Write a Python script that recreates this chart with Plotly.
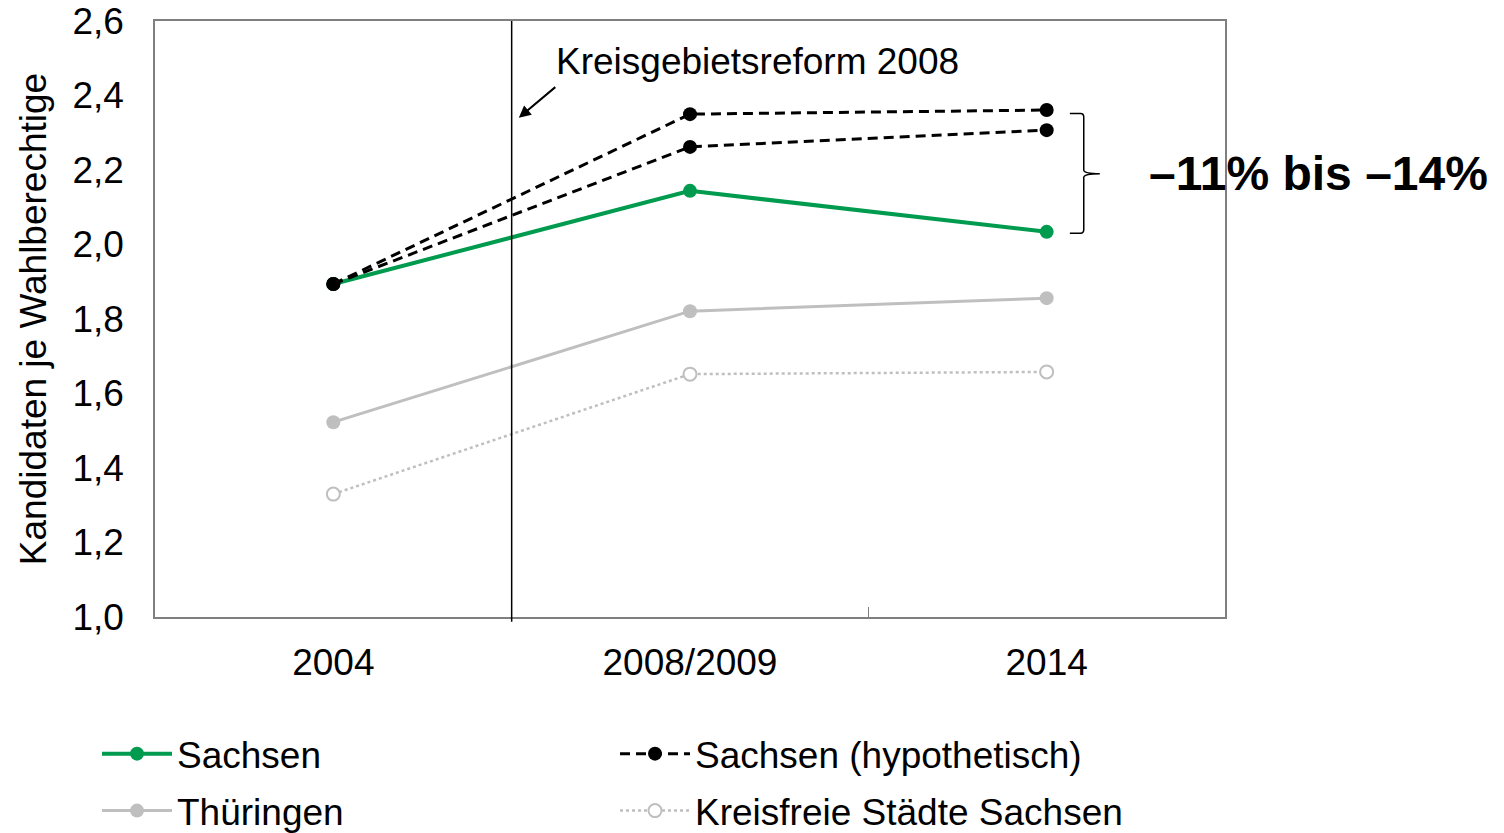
import plotly.graph_objects as go

categories = ["2004", "2008/2009", "2014"]
sachsen = [1.894, 2.144, 2.034]
sachsen_hyp_high = [1.894, 2.350, 2.361]
sachsen_hyp_low = [1.894, 2.262, 2.307]
thueringen = [1.523, 1.821, 1.856]
kreisfreie = [1.330, 1.652, 1.658]
y_ticks = [1.0, 1.2, 1.4, 1.6, 1.8, 2.0, 2.2, 2.4, 2.6]
y_tick_labels = ["1,0", "1,2", "1,4", "1,6", "1,8", "2,0", "2,2", "2,4", "2,6"]

FONT = "Liberation Sans, Arial, sans-serif"
GREEN = "#009B4E"
GRAY = "#BFBFBF"
FS = 37

fig = go.Figure()
fig.add_trace(go.Scatter(
    x=categories, y=sachsen, name="Sachsen", mode="lines+markers", legend="legend",
    line=dict(color=GREEN, width=4), marker=dict(size=14, color=GREEN)))
fig.add_trace(go.Scatter(
    x=categories, y=sachsen_hyp_high, name="Sachsen (hypothetisch)", mode="lines+markers",
    legendgroup="hyp", legend="legend",
    line=dict(color="black", width=3, dash="10px,6px"), marker=dict(size=14, color="black")))
fig.add_trace(go.Scatter(
    x=categories, y=thueringen, name="Thüringen", mode="lines+markers", legend="legend2",
    line=dict(color=GRAY, width=3), marker=dict(size=14, color=GRAY)))
fig.add_trace(go.Scatter(
    x=categories, y=kreisfreie, name="Kreisfreie Städte Sachsen", mode="lines+markers",
    legend="legend2",
    line=dict(color=GRAY, width=2.5, dash="dot"),
    marker=dict(size=13, color="white", line=dict(color=GRAY, width=2))))
fig.add_trace(go.Scatter(
    x=categories, y=sachsen_hyp_low, name="Sachsen (hypothetisch)", mode="lines+markers",
    legendgroup="hyp", showlegend=False, legend="legend",
    line=dict(color="black", width=3, dash="10px,6px"), marker=dict(size=14, color="black")))

legend_common = dict(orientation="h", x=-0.0542, xanchor="left", yanchor="top",
                     entrywidth=433, entrywidthmode="pixels", itemwidth=70,
                     font=dict(size=FS, family=FONT), tracegroupgap=0,
                     traceorder="normal", bgcolor="rgba(0,0,0,0)")

fig.update_layout(
    width=1504, height=833,
    margin=dict(l=147, r=287, t=13, b=224, autoexpand=False),
    paper_bgcolor="white", plot_bgcolor="white",
    font=dict(family=FONT, size=FS, color="black"),
    showlegend=True,
    legend=dict(y=-0.178, **legend_common),
    legend2=dict(y=-0.2736, **legend_common),
    xaxis=dict(
        type="category", range=[-0.5, 2.5], automargin=False,
        showline=True, linecolor="#7F7F7F", linewidth=1.5, mirror=True,
        ticks="inside", tickson="boundaries", ticklen=10, tickcolor="#7F7F7F",
        showgrid=False, tickfont=dict(size=FS), ticklabelstandoff=12,
        ticklabeloverflow="allow"),
    yaxis=dict(
        range=[1.0, 2.6], tickvals=y_ticks, ticktext=y_tick_labels, automargin=False,
        showline=True, linecolor="#7F7F7F", linewidth=1.5, mirror=True,
        ticks="", showgrid=False, zeroline=False, tickfont=dict(size=FS),
        ticklabelstandoff=22, ticklabeloverflow="allow",
        title=dict(text="Kandidaten je Wahlberechtige", font=dict(size=FS), standoff=14)),
)

# Kreisgebietsreform vertical line
fig.add_shape(type="line", xref="x", yref="paper", x0=0.5, x1=0.5, y0=-0.008, y1=1,
              line=dict(color="black", width=1.5))
fig.add_annotation(x=0.52, y=2.34, xref="x", yref="y", ax=38, ay=-32,
                   text="", showarrow=True, arrowhead=2, arrowsize=1.2, arrowwidth=2,
                   arrowcolor="black")
fig.add_annotation(x=0.62, y=2.49, xref="x", yref="y", xanchor="left", yanchor="middle",
                   text="Kreisgebietsreform 2008", showarrow=False,
                   font=dict(size=FS, family=FONT))

# bracket
x0, x1, x2 = 0.855, 0.868, 0.883
yt, ym, yb = 2.352, 2.19, 2.03
path = (f"M {x0} {yt} L {x1-0.003} {yt} Q {x1} {yt} {x1} {yt-0.01} L {x1} {ym+0.01} "
        f"Q {x1} {ym} {x2} {ym} Q {x1} {ym} {x1} {ym-0.01} L {x1} {yb+0.01} "
        f"Q {x1} {yb} {x1-0.003} {yb} L {x0} {yb}")
fig.add_shape(type="path", xref="paper", yref="y", path=path,
              line=dict(color="black", width=1.5))
fig.add_annotation(x=1.248, y=2.19, xref="paper", yref="y", xanchor="right", yanchor="middle",
                   text="<b>–11% bis –14%</b>", showarrow=False,
                   font=dict(size=48, family=FONT))

fig.write_html("out.html")
